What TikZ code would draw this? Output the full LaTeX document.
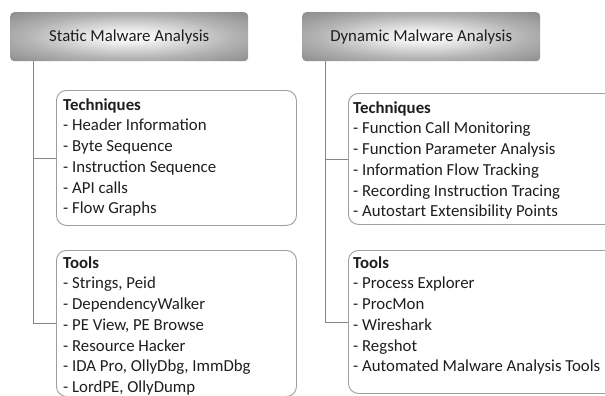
\documentclass[tikz,border=0pt]{standalone}
\usepackage{fontspec}
\setmainfont{Carlito}
\usetikzlibrary{calc}
\pgfdeclareradialshading{hdrshade}{\pgfpoint{0bp}{0bp}}{color(0bp)=(white); color(5bp)=(white!96!black); color(22bp)=(black!30); color(38bp)=(black!48); color(50bp)=(black!56); color(72bp)=(black!60)}
\definecolor{txt}{HTML}{1E1E1E}
\tikzset{
  hdr/.style={shading=hdrshade, rounded corners=4pt, minimum width=238pt, minimum height=49pt, inner sep=0pt,
    font=\fontsize{16.8}{20.7}\selectfont, text=txt},
  card/.style={draw=black!38, line width=0.9pt, rounded corners=10pt, inner sep=0pt},
  lst/.style={align=left, inner sep=0pt, font=\fontsize{16.8}{20.7}\selectfont, text=txt},
  conn/.style={draw=black!48, line width=0.9pt}
}
\newcommand{\topstrut}{\rule{0pt}{14pt}}
\begin{document}
\begin{tikzpicture}[x=1pt,y=-1pt]
\useasboundingbox (0,0) rectangle (605,396);
\clip (0,0) rectangle (605,396);
\fill[white] (0,0) rectangle (605,396);

\node[hdr, anchor=north west] (sh) at (10,12) {Static Malware Analysis};
\node[hdr, anchor=north west] (dh) at (302,12) {Dynamic Malware Analysis};

\node[card, anchor=north west, minimum width=240pt, minimum height=135pt] (st) at (56,90) {};
\node[card, anchor=north west, minimum width=240pt, minimum height=146pt] (sl) at (56,250) {};
\node[card, anchor=north west, minimum width=275pt, minimum height=131pt] (dt) at (348,93) {};
\node[card, anchor=north west, minimum width=275pt, minimum height=143pt] (dl) at (348,250) {};

\node[lst, anchor=north west] (stx) at ($(st.north west)+(7,6)$) {\topstrut\textbf{Techniques}\\
- Header Information\\
- Byte Sequence\\
- Instruction Sequence\\
- API calls\\
- Flow Graphs};
\node[lst, anchor=north west] (slx) at ($(sl.north west)+(7,4)$) {\topstrut\textbf{Tools}\\
- Strings, Peid\\
- DependencyWalker\\
- PE View, PE Browse\\
- Resource Hacker\\
- IDA Pro, OllyDbg, ImmDbg\\
- LordPE, OllyDump};
\node[lst, anchor=north west] (dtx) at ($(dt.north west)+(5,6)$) {\topstrut\textbf{Techniques}\\
- Function Call Monitoring\\
- Function Parameter Analysis\\
- Information Flow Tracking\\
- Recording Instruction Tracing\\
- Autostart Extensibility Points};
\node[lst, anchor=north west] (dlx) at ($(dl.north west)+(5,4)$) {\topstrut\textbf{Tools}\\
- Process Explorer\\
- ProcMon\\
- Wireshark\\
- Regshot\\
- Automated Malware Analysis Tools};

\coordinate (sa) at ($(sh.south west)+(23,0)$);
\coordinate (da) at ($(dh.south west)+(23,0)$);
\draw[conn] (sa) |- (st.west);
\draw[conn] (sa) |- (sl.west);
\draw[conn] (da) |- (dt.west);
\draw[conn] (da) |- (dl.west);
\end{tikzpicture}
\end{document}
